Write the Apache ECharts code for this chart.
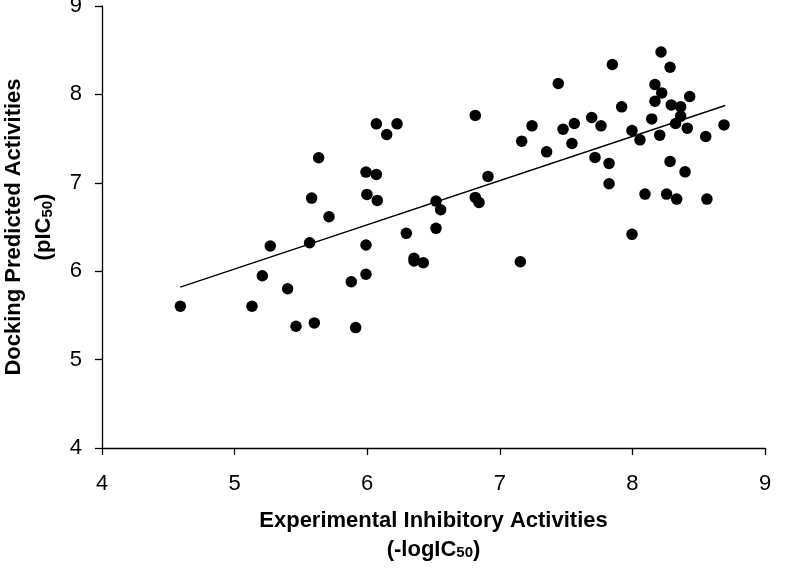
<!DOCTYPE html>
<html><head><meta charset="utf-8">
<script src="https://cdn.jsdelivr.net/npm/echarts@6/dist/echarts.min.js"></script>
<style>html,body{margin:0;padding:0;background:#fff}#c{width:792px;height:570px}</style>
</head><body><div id="c"></div>
<script>
var expX = [6.069,6.225,6.147,5.634,5.991,6.069,5.581,5.998,6.076,5.712,6.295,
  5.269,5.566,5.991,6.353,6.353,6.423,5.209,5.991,5.880,5.400,4.591,5.131,5.463,5.601,5.913,
  8.216,8.284,7.849,7.441,8.170,8.221,8.170,8.432,8.293,8.364,7.919,6.815,8.364,8.146,7.693,
  8.326,8.691,7.562,7.243,7.763,7.477,8.414,7.997,8.553,8.206,8.057,7.165,7.544,7.353,7.718,
  7.824,8.284,8.397,6.911,7.824,8.095,8.258,8.334,8.562,6.815,6.843,6.519,6.554,6.519,7.997,7.155];
var predY = [7.667,7.667,7.547,7.283,7.121,7.095,6.827,6.869,6.801,6.616,6.428,
  6.285,6.322,6.296,6.146,6.115,6.096,5.949,5.965,5.881,5.802,5.603,5.603,5.377,5.415,5.362,
  8.480,8.307,8.338,8.123,8.112,8.017,7.923,7.976,7.881,7.859,7.859,7.762,7.754,7.723,7.739,
  7.671,7.655,7.671,7.644,7.644,7.607,7.618,7.592,7.524,7.539,7.486,7.471,7.445,7.350,7.287,
  7.219,7.242,7.124,7.072,6.989,6.872,6.872,6.816,6.816,6.835,6.778,6.793,6.695,6.485,6.417,6.107];
var trendX = [4.59, 8.70];
var trendY = [5.82, 7.875];
var xTicks = [4,5,6,7,8,9];
var yTicks = [4,5,6,7,8,9];

var pts = expX.map(function(x,i){return [x,predY[i]];});
var line = trendX.map(function(x,i){return [x,trendY[i]];});
var FONT = "'Liberation Sans',Arial,sans-serif";
var chart = echarts.init(document.getElementById('c'), null, {renderer:'canvas'});
chart.setOption({
  animation:false,
  backgroundColor:'#fff',
  grid:{left:102,right:27,top:6,bottom:122,containLabel:false,outerBoundsMode:'none'},
  xAxis:{type:'value',min:xTicks[0],max:xTicks[xTicks.length-1],interval:1,
    axisLine:{onZero:false,lineStyle:{color:'#000',width:1.3}},
    axisTick:{show:true,length:7,lineStyle:{color:'#000',width:1.3}},
    splitLine:{show:false},
    axisLabel:{color:'#000',fontSize:22,fontFamily:FONT,margin:25},
    name:'{b|Experimental Inhibitory Activities}\n{b|(-logIC}{s|50}{b|)}',
    nameLocation:'middle',nameGap:58,
    nameTextStyle:{lineHeight:29,rich:{
      b:{fontSize:22,fontWeight:'bold',fontFamily:FONT,color:'#000',lineHeight:29},
      s:{fontSize:15,fontWeight:'bold',fontFamily:FONT,color:'#000',padding:[7,0,0,0],lineHeight:29}}}
  },
  yAxis:{type:'value',min:yTicks[0],max:yTicks[yTicks.length-1],interval:1,
    axisLine:{onZero:false,lineStyle:{color:'#000',width:1.3}},
    axisTick:{show:true,length:7,lineStyle:{color:'#000',width:1.3}},
    splitLine:{show:false},
    axisLabel:{color:'#000',fontSize:22,fontFamily:FONT,margin:20,padding:[2,0,0,0]},
    name:'{b|Docking Predicted Activities}\n{b|(pIC}{s|50}{b|)}',
    nameLocation:'middle',nameGap:29,nameRotate:90,
    nameTextStyle:{lineHeight:30,rich:{
      b:{fontSize:22,fontWeight:'bold',fontFamily:FONT,color:'#000',lineHeight:30},
      s:{fontSize:15,fontWeight:'bold',fontFamily:FONT,color:'#000',padding:[7,0,0,0],lineHeight:30}}}
  },
  series:[
    {type:'line',data:line,symbol:'none',lineStyle:{color:'#000',width:1.5},silent:true,z:1},
    {type:'scatter',data:pts,symbol:'circle',symbolSize:11.5,itemStyle:{color:'#000',opacity:1},z:2}
  ]
});
</script></body></html>
